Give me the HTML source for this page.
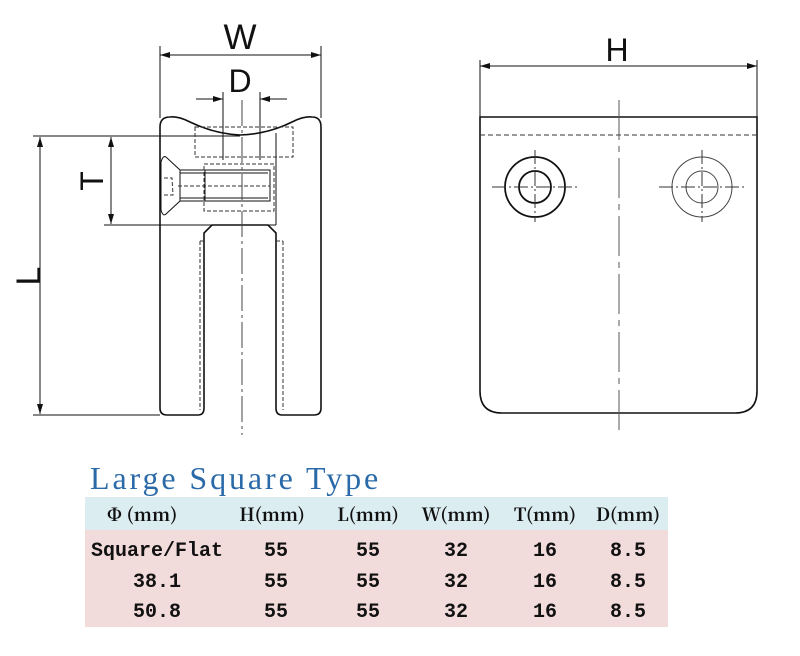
<!DOCTYPE html>
<html><head><meta charset="utf-8"><style>
html,body{margin:0;padding:0;background:#fff;width:800px;height:656px;overflow:hidden}
svg{position:absolute;left:0;top:0}
</style></head><body>
<svg width="800" height="656" viewBox="0 0 800 656" xmlns="http://www.w3.org/2000/svg">
<defs>
<marker id="a" viewBox="0 0 10 6" refX="10" refY="3" markerWidth="10" markerHeight="6" orient="auto-start-reverse" markerUnits="userSpaceOnUse"><path d="M0,0 L10,3 L0,6 z" fill="#111"/></marker>
</defs>
<g fill="none" stroke="#111" stroke-width="1">
<line x1="160" y1="46" x2="160" y2="118"/><line x1="321" y1="46" x2="321" y2="118"/>
<line x1="160" y1="55" x2="321" y2="55" marker-start="url(#a)" marker-end="url(#a)"/>
<line x1="223" y1="92" x2="223" y2="160"/><line x1="260" y1="92" x2="260" y2="160"/>
<line x1="196" y1="99" x2="223" y2="99" marker-end="url(#a)"/>
<line x1="287" y1="99" x2="260" y2="99" marker-end="url(#a)"/>
<line x1="33" y1="136" x2="240" y2="136"/>
<line x1="104" y1="225" x2="204" y2="225"/>
<line x1="33" y1="415" x2="160" y2="415"/>
<line x1="111" y1="137" x2="111" y2="224" marker-start="url(#a)" marker-end="url(#a)"/>
<line x1="40" y1="137" x2="40" y2="414" marker-start="url(#a)" marker-end="url(#a)"/>
<path d="M160,127 Q160,117 170,117 Q178,116 190,122 Q215,134 240,135 Q268,134 292,122 Q304,116 312,117 Q321,117 321,127 L321,408 Q321,415 314,415 L282,415 Q276,415 276,408 L276,233 L268,225 L212,225 L204,233 L204,408 Q204,415 198,415 L167,415 Q160,415 160,408 Z" stroke-width="1.6"/>
<line x1="276" y1="133" x2="276" y2="225"/>
<line x1="204" y1="225" x2="276" y2="225"/>
<path d="M161,162 Q163,155 166,157 L180,170 L180,201 L166,214 Q163,217 161,210 Z"/>
<path d="M180,170 L270,170 L270,201 L180,201"/>
<line x1="205" y1="170" x2="205" y2="201"/>
<line x1="180" y1="173" x2="268" y2="173"/>
<line x1="180" y1="198" x2="268" y2="198"/>
</g>
<g fill="none" stroke="#333" stroke-width="1" stroke-dasharray="4,2">
<rect x="195" y="127" width="98" height="30"/>
<rect x="204" y="164" width="70" height="47"/>
<line x1="200" y1="241" x2="200" y2="410"/><line x1="200" y1="241" x2="204" y2="241"/>
<line x1="283" y1="241" x2="283" y2="410"/><line x1="276" y1="241" x2="283" y2="241"/>
<path d="M164,178 L172,178 L173,195 L164,195"/>
<line x1="178" y1="186" x2="270" y2="186"/>
</g>
<line x1="242" y1="100" x2="242" y2="435" stroke="#444" stroke-width="1" stroke-dasharray="26,4,3,4"/>
<g fill="none" stroke="#111">
<line x1="480" y1="60" x2="480" y2="118"/><line x1="757" y1="60" x2="757" y2="118"/>
<line x1="480" y1="66" x2="757" y2="66" marker-start="url(#a)" marker-end="url(#a)"/>
<path d="M480,117 L757,117 L757,391 Q757,413 735,413 L502,413 Q480,413 480,391 Z" stroke-width="1.6"/>
<line x1="480" y1="135" x2="757" y2="135" stroke-dasharray="5,3" stroke="#333"/>
<circle cx="535" cy="187" r="30" stroke-width="1.8"/>
<circle cx="535" cy="187" r="16" stroke-width="1.8"/>
<circle cx="702" cy="187" r="30" stroke="#444"/>
<circle cx="702" cy="187" r="16" stroke="#444"/>
<g stroke="#333" stroke-dasharray="14,3,2,3">
<line x1="492" y1="187" x2="578" y2="187"/><line x1="535" y1="150" x2="535" y2="222"/>
<line x1="659" y1="187" x2="745" y2="187"/><line x1="702" y1="150" x2="702" y2="222"/>
</g>
</g>
<line x1="619" y1="100" x2="619" y2="432" stroke="#555" stroke-dasharray="40,6,6,6"/>
<g font-family="Liberation Sans, sans-serif" fill="#111" text-anchor="middle">
<text x="240" y="49" font-size="35">W</text>
<text x="240" y="92" font-size="32">D</text>
<text x="617" y="61" font-size="32">H</text>
<text x="92" y="192" font-size="32" transform="rotate(-90 92 181)">T</text>
<text x="28" y="288" font-size="34" transform="rotate(-90 28 276)">L</text>
</g>
<rect x="85" y="497" width="583" height="33" fill="#dcedf2"/>
<rect x="85" y="530" width="583" height="97" fill="#f2dbdb"/>
<text x="90" y="489" font-family="Liberation Serif, serif" font-size="32" fill="#2a6aa8" letter-spacing="2.9">Large Square Type</text>
<g font-family="Liberation Mono, 'Noto Sans CJK SC', monospace" font-size="20" font-weight="bold" fill="#111" text-anchor="middle">
<g font-size="18" font-family="'Noto Serif CJK SC', 'Liberation Serif', serif">
<text x="142" y="521">Φ (mm)</text><text x="272" y="521">H(mm)</text><text x="368" y="521">L(mm)</text><text x="456" y="521">W(mm)</text><text x="545" y="521">T(mm)</text><text x="628" y="521">D(mm)</text>
</g>
<text x="157" y="556">Square/Flat</text><text x="276" y="556">55</text><text x="368" y="556">55</text><text x="456" y="556">32</text><text x="545" y="556">16</text><text x="628" y="556">8.5</text>
<text x="157" y="587">38.1</text><text x="276" y="587">55</text><text x="368" y="587">55</text><text x="456" y="587">32</text><text x="545" y="587">16</text><text x="628" y="587">8.5</text>
<text x="157" y="617">50.8</text><text x="276" y="617">55</text><text x="368" y="617">55</text><text x="456" y="617">32</text><text x="545" y="617">16</text><text x="628" y="617">8.5</text>
</g>
</svg>
</body></html>
